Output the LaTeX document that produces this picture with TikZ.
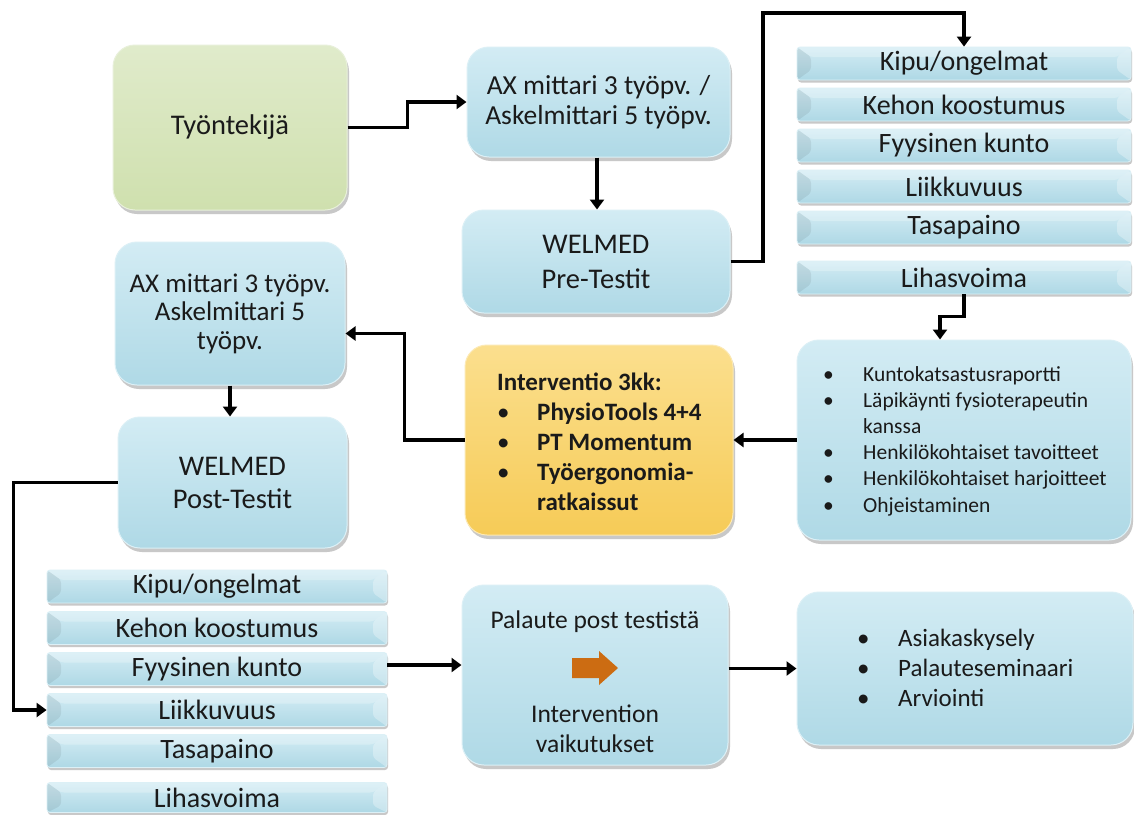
\documentclass[tikz,border=0pt]{standalone}
\usepackage{fontspec}
\setmainfont{Carlito}
\usetikzlibrary{arrows.meta,shadows}

\definecolor{btop}{HTML}{D3ECF4}
\definecolor{bbot}{HTML}{AFD9E6}
\definecolor{bdraw}{HTML}{DCF0F6}
\definecolor{gtop}{HTML}{E0EBCB}
\definecolor{gbot}{HTML}{CFE0AE}
\definecolor{gdraw}{HTML}{E8F0DA}
\definecolor{ytop}{HTML}{FBDF8E}
\definecolor{ybot}{HTML}{F6CB57}
\definecolor{ydraw}{HTML}{FCE9B4}
\definecolor{itop}{HTML}{D3ECF4}
\definecolor{ibot}{HTML}{AED8E5}
\definecolor{orarrow}{HTML}{CC6C12}
\definecolor{txt}{HTML}{1A1A1A}

\newcommand{\blt}[1]{\makebox[#1][l]{\mdseries\textbullet}}

\tikzset{
  x=1pt,y=-1pt,
  softshadow/.style={drop shadow={shadow xshift=2pt,shadow yshift=-4pt,opacity=0.3,fill=black!70}},
  bigbox/.style={rounded corners=22pt, draw=bdraw, line width=1pt, top color=btop, bottom color=bbot,
    softshadow, align=center, inner sep=0pt, text=txt},
  greenbox/.style={bigbox, draw=gdraw, top color=gtop, bottom color=gbot},
  yellowbox/.style={bigbox, draw=ydraw, top color=ytop, bottom color=ybot},
  itembox/.style={rounded corners=3pt, draw=bdraw, line width=0.8pt, top color=itop, bottom color=ibot,
    drop shadow={shadow xshift=1pt,shadow yshift=-2.5pt,opacity=0.3,fill=black!70},
    inner sep=0pt, text=txt, font=\fontsize{28}{30}\selectfont,
    path picture={
      \fill[black,opacity=0.07] (path picture bounding box.north west) -- ++(14pt,-10pt) -- ++(0,-13pt) -- (path picture bounding box.south west) -- cycle;
      \fill[white,opacity=0.3] (path picture bounding box.north east) -- ++(-14pt,-10pt) -- ++(0,-13pt) -- (path picture bounding box.south east) -- cycle;
      \fill[white,opacity=0.25] (path picture bounding box.north west) -- (path picture bounding box.north east) -- ++(-14pt,-10pt) -- ++(-\pgfkeysvalueof{/tikz/itemw}+28pt,0) -- cycle;
    }},
  itemw/.initial=300pt,
  rlist/.style={itembox, minimum width=334pt, minimum height=33pt, itemw=334pt},
  llist/.style={itembox, minimum width=340pt, minimum height=33pt, itemw=340pt},
  conn/.style={line width=3.4pt, draw=black, -{Triangle[length=10pt,width=14pt]}}
}

\begin{document}
\begin{tikzpicture}
\useasboundingbox (0,0) rectangle (1134,814);
\fill[white] (0,0) rectangle (1134,814);

% main boxes
\node[greenbox, minimum width=234pt, minimum height=165pt, font=\fontsize{28.5}{30}\selectfont] (tyo) at (230,127.5) {Työntekijä};
\node[bigbox, minimum width=263pt, minimum height=110pt, font=\fontsize{27.5}{29.5}\selectfont] (axt) at (598.5,102) {AX mittari 3 työpv. /\\Askelmittari 5 työpv.};
\node[bigbox, minimum width=268pt, minimum height=103pt, font=\fontsize{28.5}{35}\selectfont] (pre) at (596,261.5) {WELMED\\Pre-Testit};
\node[bigbox, minimum width=230pt, minimum height=143pt, font=\fontsize{27}{28.5}\selectfont] (axl) at (230,313.5) {AX mittari 3 työpv.\\Askelmittari 5\\työpv.};
\node[bigbox, minimum width=229pt, minimum height=131pt, font=\fontsize{28.5}{33}\selectfont] (post) at (232.5,482.5) {WELMED\\Post-Testit};
\node[yellowbox, minimum width=268pt, minimum height=190pt] (int) at (599,440) {};
\node[bigbox, minimum width=334pt, minimum height=200pt] (kun) at (964,440) {};
\node[bigbox, minimum width=266pt, minimum height=180pt] (pal) at (595,675) {};
\node[bigbox, minimum width=336pt, minimum height=153pt] (asi) at (965,668.5) {};

% right list
\node[rlist] (r1) at (964,63.5) {Kipu/ongelmat};
\node[rlist] (r2) at (964,104.5) {Kehon koostumus};
\node[rlist] (r3) at (964,145.5) {Fyysinen kunto};
\node[rlist] (r4) at (964,186.5) {Liikkuvuus};
\node[rlist] (r5) at (964,227.5) {Tasapaino};
\node[rlist] (r6) at (964,277.5) {Lihasvoima};

% left list
\node[llist] (l1) at (217,586.5) {Kipu/ongelmat};
\node[llist] (l2) at (217,628) {Kehon koostumus};
\node[llist] (l3) at (217,669) {Fyysinen kunto};
\node[llist] (l4) at (217,710) {Liikkuvuus};
\node[llist] (l5) at (217,751) {Tasapaino};
\node[llist, minimum height=30pt] (l6) at (217,797.5) {Lihasvoima};

% texts inside boxes
\node[anchor=west, align=left, inner sep=0pt, text=txt, font=\fontsize{25}{30}\selectfont\bfseries] (intt) at (497,441.5)
 {Interventio 3kk:\\
  \blt{40pt}PhysioTools 4+4\\
  \blt{40pt}PT Momentum\\
  \blt{40pt}Työergonomia-\\
  \hspace*{40pt}ratkaissut};
\node[anchor=west, align=left, inner sep=0pt, text=txt, font=\fontsize{21.5}{26.2}\selectfont] (kunt) at (823,441)
 {\blt{40pt}Kuntokatsastusraportti\\
  \blt{40pt}Läpikäynti fysioterapeutin\\
  \hspace*{40pt}kanssa\\
  \blt{40pt}Henkilökohtaiset tavoitteet\\
  \blt{40pt}Henkilökohtaiset harjoitteet\\
  \blt{40pt}Ohjeistaminen};
\node[anchor=west, align=left, inner sep=0pt, text=txt, font=\fontsize{25}{30}\selectfont] (asit) at (857,668)
 {\blt{41pt}Asiakaskysely\\
  \blt{41pt}Palauteseminaari\\
  \blt{41pt}Arviointi};
\node[inner sep=0pt, text=txt, font=\fontsize{25.5}{26}\selectfont] (palt1) at (595,622) {Palaute post testistä};
\node[inner sep=0pt, text=txt, font=\fontsize{25.5}{30}\selectfont, align=center] (palt2) at (595,729) {Intervention\\vaikutukset};
\fill[orarrow] (572,658) -- (599,658) -- (599,651) -- (618,668) -- (599,685) -- (599,678) -- (572,678) -- cycle;

% connectors
\draw[conn] (tyo.east) -- ++(60,0) |- (axt.west);
\draw[conn] (axt.south -| 597,0) -- (pre.north -| 597,0);
\coordinate (c1) at (763,13);
\draw[conn] (pre.east) -| (c1) -| (r1.north);
\draw[conn] (r6.south) -- ++(0,22) -| ([xshift=-24pt]kun.north);
\draw[conn] (kun.west) -- (int.east);
\draw[conn] (int.west) -- ++(-60,0) |- ([yshift=-20pt]axl.east);
\draw[conn] (axl.south) -- (axl.south |- post.north);
\draw[conn] (post.west) -- ++(-104,0) |- (l4.west);
\draw[conn] ([yshift=4pt]l3.east) -- ([yshift=4pt]l3.east -| pal.west);
\draw[conn] (pal.east |- asi.west) -- (asi.west);
\end{tikzpicture}
\end{document}
